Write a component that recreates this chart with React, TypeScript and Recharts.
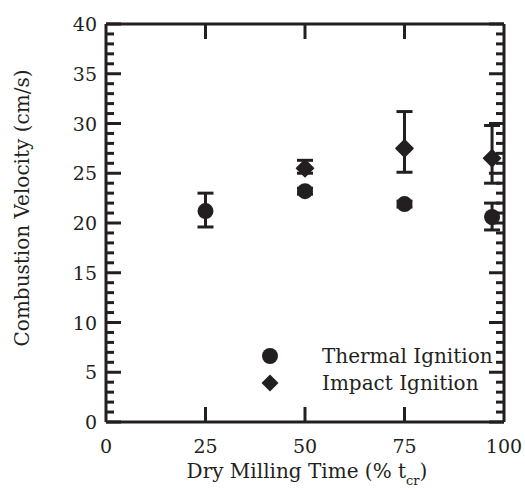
import { ScatterChart, Scatter, XAxis, YAxis, ErrorBar, Legend } from "recharts";

const INK = "#231f20";
const FONT = "DejaVu Serif";
const TXT = { fontFamily: FONT, fontSize: 20, fill: INK };
const TICK_TXT = { fontFamily: FONT, fontSize: 19, fill: INK };

// milling time, % of t_cr
const thermalTime = [25, 50, 75, 97];
const thermalVel = [21.2, 23.2, 21.9, 20.6];
const thermalDown = [1.6, 0.3, 0.3, 1.3];
const thermalUp = [1.8, 0.3, 0.3, 1.4];

const impactTime = [50, 75, 97];
const impactVel = [25.5, 27.5, 26.5];
const impactDown = [0.5, 2.4, 2.5];
const impactUp = [0.8, 3.7, 3.3];

const xTicks = [0, 25, 50, 75, 100];
const yTicks = Array.from({ length: 41 }, (_, i) => i);

const thermal = thermalTime.map((t, i) => ({ t, v: thermalVel[i], err: [thermalDown[i], thermalUp[i]] }));
const impact = impactTime.map((t, i) => ({ t, v: impactVel[i], err: [impactDown[i], impactUp[i]] }));

const Dot = ({ cx, cy }: any) => <circle cx={cx} cy={cy} r={8} fill={INK} />;
const Diamond = ({ cx, cy }: any) => (
  <polygon
    points={`${cx - 8.5},${cy} ${cx},${cy - 8.5} ${cx + 8.5},${cy} ${cx},${cy + 8.5}`}
    fill={INK}
    stroke={INK}
    strokeWidth={1.5}
    strokeLinejoin="round"
  />
);

const LeftTick = ({ x, y, payload }: any) => {
  const major = payload.value % 5 === 0;
  return (
    <g>
      <line x1={x} y1={y} x2={x + (major ? 15 : 8)} y2={y} stroke={INK} strokeWidth={3} />
      {major && (
        <text x={x - 9} y={y} dy={7} textAnchor="end" style={TICK_TXT}>
          {payload.value}
        </text>
      )}
    </g>
  );
};

const RightTick = ({ x, y, payload }: any) => {
  const major = payload.value % 5 === 0;
  return <line x1={x} y1={y} x2={x - (major ? 15 : 8)} y2={y} stroke={INK} strokeWidth={3} />;
};

const BottomTick = ({ x, y, payload }: any) => {
  const inner = payload.value > 0 && payload.value < 100;
  return (
    <g>
      {inner && <line x1={x} y1={y} x2={x} y2={y - 15} stroke={INK} strokeWidth={3} />}
      <text x={x} y={y + 31} textAnchor="middle" style={TICK_TXT}>
        {payload.value}
      </text>
    </g>
  );
};

const TopTick = ({ x, y, payload }: any) => {
  const inner = payload.value > 0 && payload.value < 100;
  return inner ? <line x1={x} y1={y} x2={x} y2={y + 15} stroke={INK} strokeWidth={3} /> : <g />;
};

const LegendBox = () => (
  <svg width={260} height={60} style={{ display: "block" }}>
    <circle cx={15} cy={16} r={8} fill={INK} />
    <text x={67} y={23} style={TXT}>Thermal Ignition</text>
    <polygon points="6.5,43 15,34.5 23.5,43 15,51.5" fill={INK} />
    <text x={67} y={50} style={TXT}>Impact Ignition</text>
  </svg>
);

export default function App() {
  return (
    <div style={{ position: "absolute", left: 0, top: 0 }}>
      <ScatterChart width={525} height={490} margin={{ top: 23, right: 20, bottom: 20, left: 46 }}>
        <XAxis
          xAxisId="b"
          dataKey="t"
          type="number"
          domain={[0, 100]}
          ticks={xTicks}
          interval={0}
          tickSize={0}
          tickMargin={0}
          height={48}
          axisLine={{ stroke: INK, strokeWidth: 3 }}
          tick={<BottomTick />}
          label={{
            content: () => (
              <text x={307} y={478} textAnchor="middle" style={TXT}>
                Dry Milling Time (% t
                <tspan fontSize={13} dy={7}>cr</tspan>
                <tspan dy={-7}>)</tspan>
              </text>
            ),
          }}
        />
        <XAxis
          xAxisId="t"
          orientation="top"
          dataKey="t"
          type="number"
          domain={[0, 100]}
          ticks={xTicks}
          interval={0}
          tickSize={0}
          tickMargin={0}
          height={1}
          axisLine={{ stroke: INK, strokeWidth: 3 }}
          tick={<TopTick />}
        />
        <YAxis
          yAxisId="l"
          dataKey="v"
          type="number"
          domain={[0, 40]}
          ticks={yTicks}
          interval={0}
          tickSize={0}
          tickMargin={0}
          width={60}
          axisLine={{ stroke: INK, strokeWidth: 3 }}
          tick={<LeftTick />}
          label={{
            content: () => (
              <text x={29} y={208} transform="rotate(-90 29 208)" textAnchor="middle" style={TXT}>
                Combustion Velocity (cm/s)
              </text>
            ),
          }}
        />
        <YAxis
          yAxisId="r"
          orientation="right"
          dataKey="v"
          type="number"
          domain={[0, 40]}
          ticks={yTicks}
          interval={0}
          tickSize={0}
          tickMargin={0}
          width={1}
          axisLine={{ stroke: INK, strokeWidth: 3 }}
          tick={<RightTick />}
        />
        <Legend
          layout="horizontal"
          verticalAlign="middle"
          align="center"
          content={<LegendBox />}
          wrapperStyle={{ position: "absolute", left: 255, top: 340, width: 260, height: 60 }}
        />
        <Scatter name="Thermal Ignition" data={thermal} xAxisId="b" yAxisId="l" shape={<Dot />} isAnimationActive={false}>
          <ErrorBar dataKey="err" direction="y" width={8} stroke={INK} strokeWidth={3} />
        </Scatter>
        <Scatter name="Impact Ignition" data={impact} xAxisId="t" yAxisId="r" shape={<Diamond />} isAnimationActive={false}>
          <ErrorBar dataKey="err" direction="y" width={8} stroke={INK} strokeWidth={3} />
        </Scatter>
      </ScatterChart>
    </div>
  );
}
